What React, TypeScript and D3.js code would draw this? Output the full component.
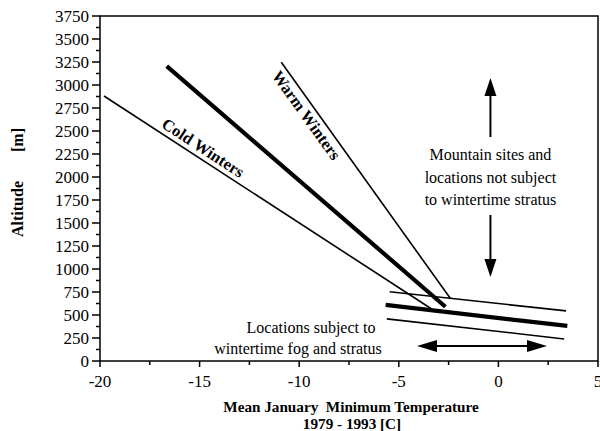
import React from "react";
import * as d3 from "d3";

// Altitude–temperature relationships (temperature in °C, altitude in m)
const coldWintersT = [-19.8, -3.35];
const coldWintersZ = [2880, 565];
const meanWintersT = [-16.65, -2.66];
const meanWintersZ = [3205, 590];
const warmWintersT = [-10.9, -2.4];
const warmWintersZ = [3248, 676];

const stratusUpperT = [-5.46, 3.4];
const stratusUpperZ = [752, 545];
const stratusMidT = [-5.66, 3.46];
const stratusMidZ = [610, 381];
const stratusLowerT = [-5.6, 3.3];
const stratusLowerZ = [458, 240];

const xTicks = [-20, -15, -10, -5, 0, 5];
const xMinorTicks = [-17.5, -12.5, -7.5, -2.5, 2.5];
const yTicks = d3.range(0, 3751, 250);
const yMinorTicks = d3.range(125, 3750, 250);

const mountainText = ["Mountain sites and", "locations not subject", "to wintertime stratus"];
const fogText = ["Locations subject to", "wintertime fog and stratus"];

const W = 600;
const H = 431;
const FONT = "'Liberation Serif', 'Times New Roman', serif";

export default function App() {
  const x = d3.scaleLinear().domain([-20, 5]).range([100, 598]);
  const y = d3.scaleLinear().domain([0, 3750]).range([361, 16]);

  const line = d3
    .line<[number, number]>()
    .x((d) => x(d[0]))
    .y((d) => y(d[1]));
  const seg = (t: number[], z: number[]) =>
    line(t.map((v, i) => [v, z[i]] as [number, number])) || "";

  const thin = [
    seg(coldWintersT, coldWintersZ),
    seg(warmWintersT, warmWintersZ),
    seg(stratusUpperT, stratusUpperZ),
    seg(stratusLowerT, stratusLowerZ),
  ];
  const thick = [seg(meanWintersT, meanWintersZ), seg(stratusMidT, stratusMidZ)];

  // label geometry along lines
  const angleOf = (t: number[], z: number[]) =>
    (Math.atan2(y(z[1]) - y(z[0]), x(t[1]) - x(t[0])) * 180) / Math.PI;
  const at = (t: number[], z: number[], tv: number) =>
    z[0] + ((tv - t[0]) / (t[1] - t[0])) * (z[1] - z[0]);

  const coldAngle = angleOf(coldWintersT, coldWintersZ);
  const coldT = -17.1;
  const coldPos = [x(coldT), y(at(coldWintersT, coldWintersZ, coldT))];

  const warmAngle = angleOf(warmWintersT, warmWintersZ);
  const warmT = -10.75;
  const warmPos = [x(warmT), y(at(warmWintersT, warmWintersZ, warmT))];

  // arrows
  const arrowX = x(-0.4);
  const upTip = 78, upBase = 96, upEnd = 137;
  const dnStart = 215, dnBase = 259, dnTip = 277;
  const hY = 346, hL = 417, hR = 547;

  return (
    <div style={{ position: "absolute", left: 0, top: 0 }}>
      <svg width={W} height={H} style={{ display: "block", background: "#fff" }}>
        {/* frame */}
        <rect x={100} y={16} width={498} height={345} fill="none" stroke="#000" strokeWidth={1.5} />

        {/* y ticks */}
        {yTicks.map((v) => (
          <g key={"y" + v}>
            <line x1={92} x2={100} y1={y(v)} y2={y(v)} stroke="#000" strokeWidth={1.5} />
            <text
              x={89}
              y={y(v)}
              dy="0.35em"
              textAnchor="end"
              fontFamily={FONT}
              fontSize={17}
            >
              {v}
            </text>
          </g>
        ))}
        {yMinorTicks.map((v) => (
          <line key={"ym" + v} x1={96} x2={100} y1={y(v)} y2={y(v)} stroke="#000" strokeWidth={1.5} />
        ))}

        {/* x ticks */}
        {xTicks.map((v) => (
          <g key={"x" + v}>
            <line x1={x(v)} x2={x(v)} y1={361} y2={367} stroke="#000" strokeWidth={1.5} />
            <text x={x(v)} y={387} textAnchor="middle" fontFamily={FONT} fontSize={17}>
              {v}
            </text>
          </g>
        ))}
        {xMinorTicks.map((v) => (
          <line key={"xm" + v} x1={x(v)} x2={x(v)} y1={361} y2={365} stroke="#000" strokeWidth={1.5} />
        ))}

        {/* axis titles */}
        <text
          transform="translate(23,209) rotate(-90)"
          textAnchor="middle"
          fontFamily={FONT}
          fontWeight="bold"
          fontSize={16}
        >
          Altitude
        </text>
        <text
          transform="translate(23,140) rotate(-90)"
          textAnchor="middle"
          fontFamily={FONT}
          fontWeight="bold"
          fontSize={16}
        >
          [m]
        </text>
        <text
          x={351}
          y={412}
          textAnchor="middle"
          fontFamily={FONT}
          fontWeight="bold"
          fontSize={15.2}
          style={{ whiteSpace: "pre" }}
        >
          {"Mean January  Minimum Temperature"}
        </text>
        <text x={352} y={428.5} textAnchor="middle" fontFamily={FONT} fontWeight="bold" fontSize={15.2}>
          1979 - 1993 [C]
        </text>

        {/* lines */}
        {thin.map((d, i) => (
          <path key={"t" + i} d={d} fill="none" stroke="#000" strokeWidth={1.6} />
        ))}
        {thick.map((d, i) => (
          <path key={"k" + i} d={d} fill="none" stroke="#000" strokeWidth={4.2} />
        ))}

        {/* line labels */}
        <text
          transform={`translate(${coldPos[0]},${coldPos[1]}) rotate(${coldAngle})`}
          dy={-5}
          fontFamily={FONT}
          fontWeight="bold"
          fontSize={16.5}
        >
          Cold Winters
        </text>
        <text
          transform={`translate(${warmPos[0]},${warmPos[1]}) rotate(${warmAngle})`}
          dy={16}
          fontFamily={FONT}
          fontWeight="bold"
          fontSize={16.5}
        >
          Warm Winters
        </text>

        {/* mountain annotation */}
        <line x1={arrowX} x2={arrowX} y1={upBase} y2={upEnd} stroke="#000" strokeWidth={2} />
        <path
          d={`M${arrowX},${upTip} L${arrowX - 6},${upBase} L${arrowX + 6},${upBase} Z`}
          fill="#000"
        />
        <line x1={arrowX} x2={arrowX} y1={dnStart} y2={dnBase} stroke="#000" strokeWidth={2} />
        <path
          d={`M${arrowX},${dnTip} L${arrowX - 6},${dnBase} L${arrowX + 6},${dnBase} Z`}
          fill="#000"
        />
        {mountainText.map((s, i) => (
          <text
            key={s}
            x={arrowX}
            y={160 + i * 22.5}
            textAnchor="middle"
            fontFamily={FONT}
            fontSize={16}
          >
            {s}
          </text>
        ))}

        {/* fog annotation */}
        <line x1={hL + 18} x2={hR - 18} y1={hY} y2={hY} stroke="#000" strokeWidth={2} />
        <path d={`M${hL},${hY} L${hL + 20},${hY - 6} L${hL + 20},${hY + 6} Z`} fill="#000" />
        <path d={`M${hR},${hY} L${hR - 20},${hY - 6} L${hR - 20},${hY + 6} Z`} fill="#000" />
        {fogText.map((s, i) => (
          <text
            key={s}
            x={i === 0 ? 311 : 298}
            y={333 + i * 21}
            textAnchor="middle"
            fontFamily={FONT}
            fontSize={16}
          >
            {s}
          </text>
        ))}
      </svg>
    </div>
  );
}
